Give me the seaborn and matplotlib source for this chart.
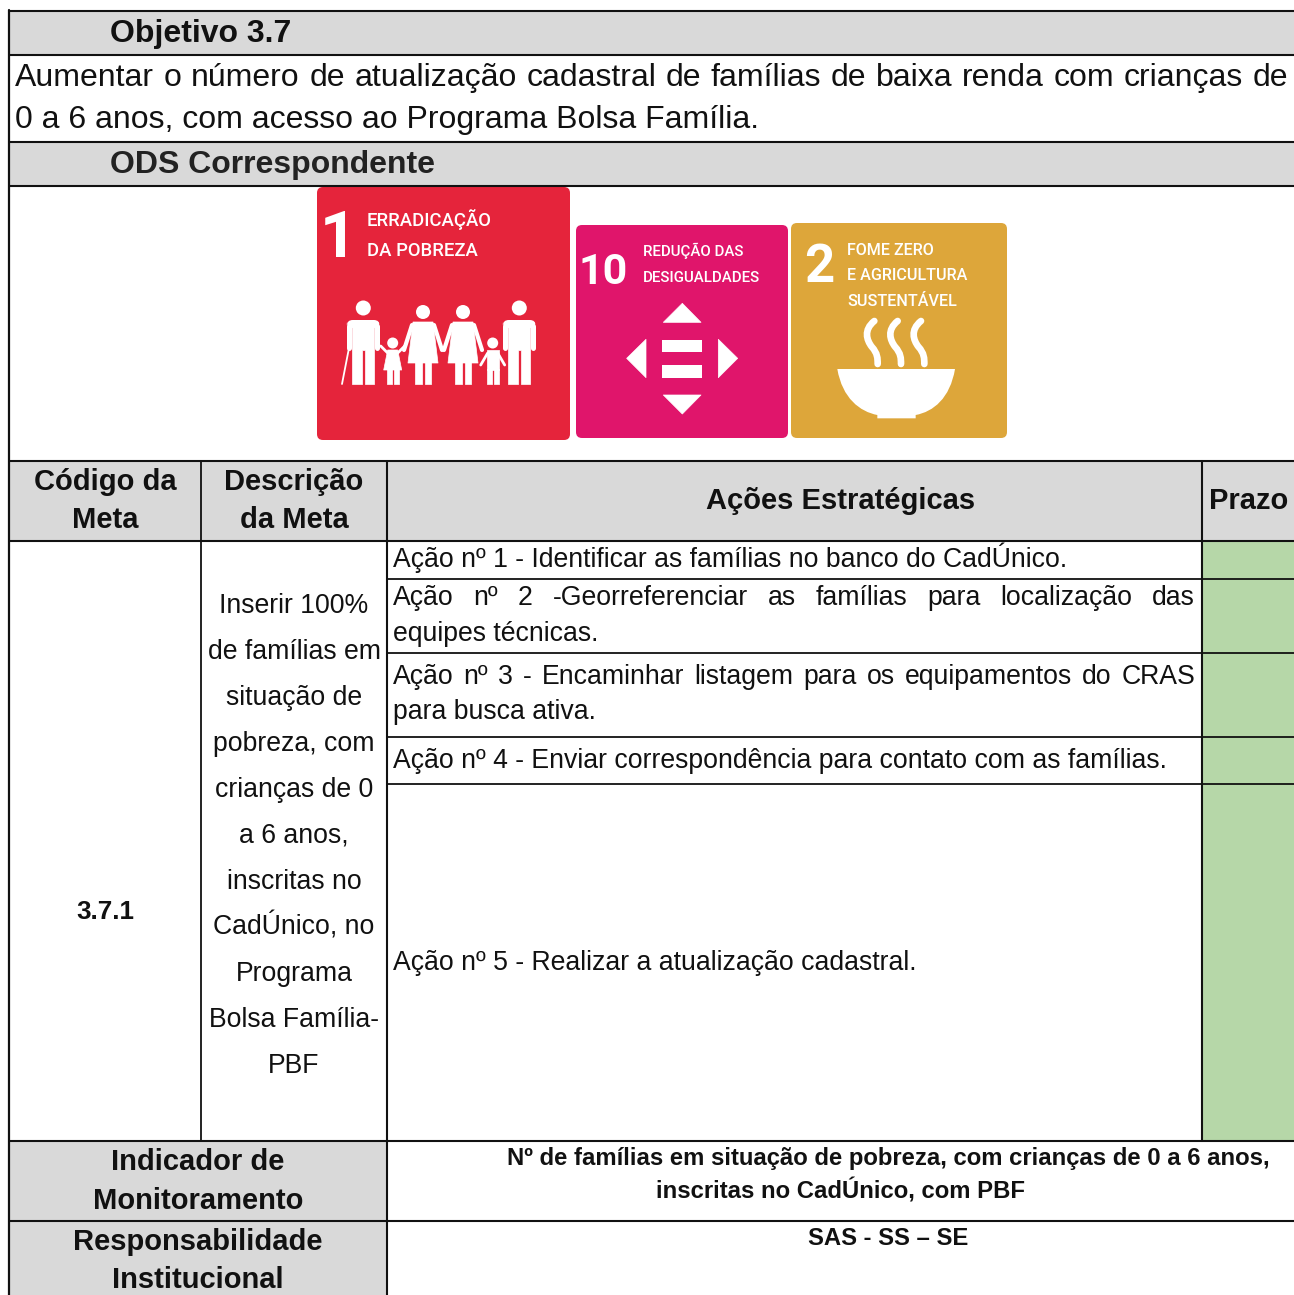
import numpy as np
import matplotlib
matplotlib.use('Agg')
import matplotlib.pyplot as plt
import seaborn as sns
from matplotlib.patches import Circle, Polygon, FancyBboxPatch, PathPatch, Rectangle
from matplotlib.path import Path

# =========================
# TABLE CONTENT
# =========================

title_text = "Objetivo 3.7"
objective_lines = ["Aumentar o número de atualização cadastral de famílias de baixa renda com crianças de",
                   "0 a 6 anos, com acesso ao Programa Bolsa Família."]
ods_title = "ODS Correspondente"
header_labels = ["Código da\nMeta", "Descrição\nda Meta", "Ações Estratégicas", "Prazo"]
meta_code = "3.7.1"
meta_lines = ["Inserir 100%", "de famílias em", "situação de", "pobreza, com", "crianças de 0",
              "a 6 anos,", "inscritas no", "CadÚnico, no", "Programa", "Bolsa Família-", "PBF"]
action_1 = "Ação nº 1 - Identificar as famílias no banco do CadÚnico."
action_2 = ["Ação nº 2 -Georreferenciar as famílias para localização das", "equipes técnicas."]
action_3 = ["Ação nº 3 - Encaminhar listagem para os equipamentos do CRAS", "para busca ativa."]
action_4 = "Ação nº 4 - Enviar correspondência para contato com as famílias."
action_5 = "Ação nº 5 - Realizar a atualização cadastral."
indicator_label = "Indicador de\nMonitoramento"
indicator_lines = ["Nº de famílias em situação de pobreza, com crianças de 0 a 6 anos,",
                   "inscritas no CadÚnico, com PBF"]
resp_label = "Responsabilidade\nInstitucional"
resp_text = "SAS - SS – SE"

icon_1_lines = ["ERRADICAÇÃO", "DA POBREZA"]
icon_10_lines = ["REDUÇÃO DAS", "DESIGUALDADES"]
icon_2_lines = ["FOME ZERO", "E AGRICULTURA", "SUSTENTÁVEL"]

GRAY = '#D9D9D9'
GREEN = '#B6D7A8'
RED = '#E5243B'
PINK = '#E0156B'
GOLD = '#DDA63A'
INK = '#111111'
W, H = 1294, 1295

sns.set_theme(style='white')
plt.rcParams['font.family'] = ['Liberation Sans']

fig = plt.figure(figsize=(W / 100, H / 100), dpi=100)
fig.patch.set_facecolor('white')


def fill_cell(x0, y0, x1, y1, color):
    # each shaded block is a one cell heatmap placed in pixel position
    cell_ax = fig.add_axes([x0 / W, 1 - y1 / H, (x1 - x0) / W, (y1 - y0) / H])
    sns.heatmap(np.array([[1.0]]), cmap=[color], cbar=False, xticklabels=False,
                yticklabels=False, ax=cell_ax)


fill_cell(9, 11, W, 55, GRAY)
fill_cell(9, 142, W, 186, GRAY)
fill_cell(9, 461, W, 541, GRAY)
fill_cell(1202, 541, W, 1141, GREEN)
fill_cell(9, 1141, 387, H, GRAY)

ax = fig.add_axes([0, 0, 1, 1])
ax.set_xlim(0, W)
ax.set_ylim(H, 0)
ax.axis('off')
ax.patch.set_alpha(0)

# =========================
# GRID LINES
# =========================

for y in [11, 55, 142, 186, 461, 541, 1141, 1221]:
    ax.plot([9, W], [y, y], color=INK, lw=1.5, solid_capstyle='butt')
for y in [579, 653, 737, 784]:
    ax.plot([387, W], [y, y], color=INK, lw=1.3, solid_capstyle='butt')
ax.plot([9, 9], [10, H], color=INK, lw=1.6)
ax.plot([201, 201], [461, 1141], color=INK, lw=1.3)
ax.plot([387, 387], [461, H], color=INK, lw=1.5)
ax.plot([1202, 1202], [461, 1141], color=INK, lw=1.5)


# =========================
# TEXT
# =========================

def justified(line, x0, x1, y, size):
    words = line.split(' ')
    rend = fig.canvas.get_renderer()
    items = [ax.text(x0, y, w, fontsize=size, va='baseline', ha='left', color=INK) for w in words]
    widths = [t.get_window_extent(rend).width for t in items]
    gap = (x1 - x0 - sum(widths)) / (len(words) - 1)
    pos = x0
    for t, w in zip(items, widths):
        t.set_x(pos)
        pos += w + gap


def label(x, y, s, size, bold=False, ha='left', color=INK):
    # y is the baseline, so accented lines stay level with the others
    ax.text(x, y, s, fontsize=size, fontweight='bold' if bold else 'normal', ha=ha, va='baseline', color=color)


label(110, 42, title_text, 23, True)
justified(objective_lines[0], 15, 1288, 86, 23)
label(15, 128, objective_lines[1], 23)
label(110, 173, ods_title, 23, True, color='#222222')

label(105, 490, header_labels[0].split('\n')[0], 21, True, 'center')
label(105, 528, header_labels[0].split('\n')[1], 21, True, 'center')
label(294, 490, header_labels[1].split('\n')[0], 21, True, 'center')
label(294, 528, header_labels[1].split('\n')[1], 21, True, 'center')
label(841, 509, header_labels[2], 21, True, 'center')
label(1249, 509, header_labels[3], 21, True, 'center')

label(105, 919, meta_code, 18.7, True, 'center')
for i, line in enumerate(meta_lines):
    label(294, 613 + 46 * i, line, 19.2, ha='center')

label(393, 567, action_1, 19.2)
justified(action_2[0], 393, 1195, 605, 19.2)
label(393, 641, action_2[1], 19.2)
justified(action_3[0], 393, 1195, 684, 19.2)
label(393, 719, action_3[1], 19.2)
label(393, 768, action_4, 19.2)
label(393, 970, action_5, 19.2)

label(198, 1170, indicator_label.split('\n')[0], 21, True, 'center')
label(198, 1209, indicator_label.split('\n')[1], 21, True, 'center')
label(198, 1250, resp_label.split('\n')[0], 21, True, 'center')
label(198, 1288, resp_label.split('\n')[1], 21, True, 'center')
label(888, 1165, indicator_lines[0], 17.2, True, 'center')
label(841, 1198, indicator_lines[1], 17.2, True, 'center')
label(888, 1245, resp_text, 17.2, True, 'center')


# =========================
# ODS ICONS
# =========================

def icon_box(x0, y0, x1, y1, color):
    ax.add_patch(FancyBboxPatch((x0 + 5, y0 + 5), x1 - x0 - 10, y1 - y0 - 10,
                                boxstyle='round,pad=5,rounding_size=6', fc=color, ec='none'))


def white_poly(points):
    ax.add_patch(Polygon(points, closed=True, fc='white', ec='white', lw=0.5, joinstyle='round'))


def man(cx, head_y, foot_y, r=7.5):
    ax.add_patch(Circle((cx, head_y), r, fc='white', ec='none'))
    top = head_y + 10
    ax.add_patch(FancyBboxPatch((cx - 16.5, top + 2), 33, 8, boxstyle='round,pad=0,rounding_size=6', fc='white', ec='none'))
    white_poly([(cx - 11, top + 4), (cx + 11, top + 4), (cx + 11, foot_y), (cx + 1.5, foot_y),
                (cx + 1.5, top + 32), (cx - 1.5, top + 32), (cx - 1.5, foot_y), (cx - 11, foot_y)])
    for side in (-1, 1):
        ax.plot([cx + side * 14, cx + side * 14], [top + 8, top + 30], color='white', lw=3.6, solid_capstyle='round')


def woman(cx, head_y, foot_y, r=7):
    ax.add_patch(Circle((cx, head_y), r, fc='white', ec='none'))
    top = head_y + 10
    white_poly([(cx - 10, top), (cx + 10, top), (cx + 15, top + 41), (cx - 15, top + 41)])
    white_poly([(cx - 8, top + 40), (cx - 1.5, top + 40), (cx - 1.5, foot_y), (cx - 8, foot_y)])
    white_poly([(cx + 1.5, top + 40), (cx + 8, top + 40), (cx + 8, foot_y), (cx + 1.5, foot_y)])
    for side in (-1, 1):
        ax.plot([cx + side * 11, cx + side * 19], [top + 3, top + 28], color='white', lw=3, solid_capstyle='round')


def child(cx, head_y, foot_y, dress, arm_up=False):
    ax.add_patch(Circle((cx, head_y), 5.5, fc='white', ec='none'))
    top = head_y + 7
    if dress:
        white_poly([(cx - 5, top), (cx + 5, top), (cx + 9, top + 20), (cx - 9, top + 20)])
    else:
        white_poly([(cx - 6, top), (cx + 6, top), (cx + 6, top + 20), (cx - 6, top + 20)])
    white_poly([(cx - 6, top + 19), (cx - 1, top + 19), (cx - 1, foot_y), (cx - 6, foot_y)])
    white_poly([(cx + 1, top + 19), (cx + 6, top + 19), (cx + 6, foot_y), (cx + 1, foot_y)])
    dy = -7 if arm_up else 12
    for side in (-1, 1):
        ax.plot([cx + side * 5, cx + side * 12], [top + 3, top + 3 + dy], color='white', lw=2, solid_capstyle='round')


icon_box(317, 187, 570, 440, RED)
ax.text(338, 257, "1", fontsize=46, fontweight='bold', color='white', ha='center', va='baseline', family='Roboto')
for i, line in enumerate(icon_1_lines):
    ax.text(367, 225.5 + 30 * i, line, fontsize=13.3, color='white', va='baseline', family='Roboto', fontweight='medium')
man(363.3, 308, 384)
child(392.7, 343, 384, True, arm_up=True)
woman(423, 312, 384)
woman(463, 312, 384)
child(492.7, 343, 384, False)
man(519.3, 308, 384)
ax.plot([342, 349], [384, 348], color='white', lw=1.3)

icon_box(576, 225, 788, 438, PINK)
ax.text(603, 284, "10", fontsize=31, fontweight='bold', color='white', ha='center', va='baseline', family='Roboto')
for i, line in enumerate(icon_10_lines):
    ax.text(643, 256 + 26 * i, line, fontsize=10.8, color='white', va='baseline', family='Roboto', fontweight='medium')


def pz(u, v):
    return (570 + u / 3, 215 + v / 3)


white_poly([pz(337, 265), pz(280, 322), pz(393, 322)])
white_poly([pz(170, 430), pz(228, 373), pz(228, 488)])
white_poly([pz(503, 430), pz(445, 373), pz(445, 488)])
white_poly([pz(280, 540), pz(393, 540), pz(337, 597)])
ax.add_patch(Rectangle(pz(277, 374), 40, 12.7, fc='white', ec='none'))
ax.add_patch(Rectangle(pz(277, 450), 40, 12.7, fc='white', ec='none'))

icon_box(791, 223, 1007, 438, GOLD)
ax.text(819, 282, "2", fontsize=38, fontweight='bold', color='white', ha='center', va='baseline', family='Roboto')
for i, line in enumerate(icon_2_lines):
    ax.text(847, 255 + 25.5 * i, line, fontsize=11.6, color='white', va='baseline', family='Roboto', fontweight='medium')

for u in [905, 975, 1045]:
    verts = [pz(u + 8, 318), pz(u - 25, 345), pz(u - 15, 375), pz(u, 395), pz(u + 18, 415), pz(u + 18, 430), pz(u + 18, 447)]
    codes = [Path.MOVETO, Path.CURVE4, Path.CURVE4, Path.CURVE4, Path.CURVE4, Path.CURVE4, Path.CURVE4]
    ax.add_patch(PathPatch(Path(verts, codes), fc='none', ec='white', lw=4.8, capstyle='round'))

bowl_verts = [pz(802, 462), pz(1155, 462), pz(1140, 550), pz(1090, 590), pz(1037, 600), pz(1037, 610), pz(922, 610), pz(922, 600),
              pz(870, 590), pz(817, 550), pz(802, 462)]
bowl_codes = [Path.MOVETO, Path.LINETO, Path.CURVE4, Path.CURVE4, Path.CURVE4, Path.LINETO, Path.LINETO, Path.LINETO,
              Path.CURVE4, Path.CURVE4, Path.CURVE4]
ax.add_patch(PathPatch(Path(bowl_verts, bowl_codes), fc='white', ec='none'))

fig.savefig('out.png', dpi=100)
